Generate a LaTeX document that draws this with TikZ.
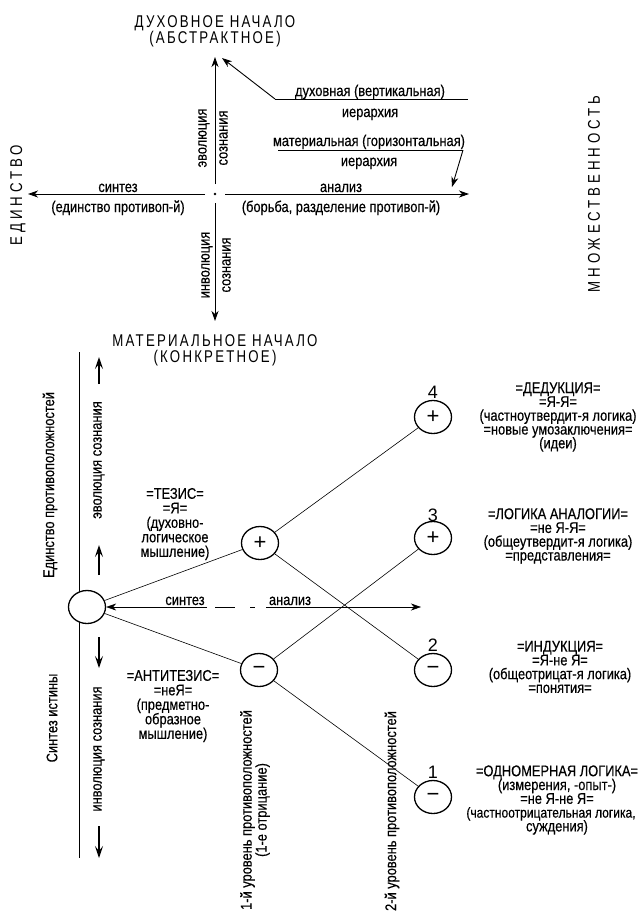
\documentclass[tikz,border=0pt]{standalone}
\usepackage{fontspec}
\setmainfont{Liberation Sans}[FakeStretch=0.83,FakeBold=0.4]
\newfontfamily\capsfont{Liberation Sans}[FakeStretch=0.78,LetterSpace=13]
\newfontfamily\sidefont{Liberation Sans}[FakeStretch=0.78,LetterSpace=23]
\newfontfamily\numfont{Liberation Sans}
\usetikzlibrary{arrows.meta,shapes.geometric}
\lineskiplimit=-30pt
\lineskip=0pt
\begin{document}
\begin{tikzpicture}[x=1pt,y=-1pt,
  txt/.style={font=\fontsize{15.5}{13.8}\selectfont, inner sep=0pt, align=center},
  txtw/.style={font=\fontsize{15.5}{21}\selectfont, inner sep=0pt, align=center},
  txtl/.style={font=\fontsize{15.5}{14.5}\selectfont, inner sep=0pt, align=center},
  captxt/.style={font=\capsfont\fontsize{17}{16}\selectfont, inner sep=0pt, align=center},
  sidetxt/.style={font=\sidefont\fontsize{17}{16}\selectfont, inner sep=0pt, align=center},
  numtxt/.style={font=\numfont\fontsize{18}{18}\selectfont, inner sep=0pt},
  circ/.style={ellipse, draw, line width=1.3pt, minimum width=37pt, minimum height=33pt, inner sep=0pt, font=\numfont\fontsize{22}{22}\selectfont},
  axis/.style={line width=0.9pt},
  conn/.style={line width=0.6pt},
  tipA/.style={-{Stealth[length=10pt,width=7pt,inset=3pt]}},
  tipB/.style={-{Stealth[length=12pt,width=8pt,inset=5pt]}, line width=1.5pt}
]
\useasboundingbox (0,0) rectangle (638,911);

% ---------- upper cross ----------
\node[captxt] (top) at (215,31) {ДУХОВНОЕ НАЧАЛО\\(АБСТРАКТНОЕ)};
\node[captxt] (bot) at (215,350) {МАТЕРИАЛЬНОЕ НАЧАЛО\\(КОНКРЕТНОЕ)};
\node[sidetxt, rotate=90] (edin) at (18,195) {ЕДИНСТВО};
\node[sidetxt, rotate=90] (mnozh) at (594,194) {МНОЖЕСТВЕННОСТЬ};

\coordinate (cdot) at (215,194);
\fill (cdot) circle (1.4);
\coordinate (vup0) at (215,184);
\coordinate (vuptip) at (215,57);
\coordinate (vdn0) at (215,203);
\coordinate (vdntip) at (215,321);
\coordinate (hl0) at (205,194);
\coordinate (hltip) at (28,194);
\coordinate (hr0) at (225,194);
\coordinate (hrtip) at (469,194);
\draw[axis,tipA] (vup0) -- (vuptip);
\draw[axis,tipA] (vdn0) -- (vdntip);
\draw[axis,tipA] (hl0) -- (hltip);
\draw[axis,tipA] (hr0) -- (hrtip);

\node[txtw, rotate=90] (evo) at (213,138) {эволюция\\сознания};
\node[txtw, rotate=90] (invo) at (216,265) {инволюция\\сознания};

\node[txt, anchor=base] (sint) at (118,192) {синтез};
\node[txt, anchor=base] (sint2) at (118,212) {(единство противоп-й)};
\node[txt, anchor=base] (anal) at (341,192) {анализ};
\node[txt, anchor=base] (anal2) at (341,212) {(борьба, разделение противоп-й)};

% hierarchies
\coordinate (h1a) at (275,99);
\coordinate (h1b) at (468,99);
\coordinate (h1tip) at (222,58);
\draw[axis] (h1b) -- (h1a);
\draw[axis,tipA] (h1a) -- (h1tip);
\node[txt, anchor=base] (dh) at (370,96) {духовная (вертикальная)};
\node[txt, anchor=base] (dh2) at (370,117) {иерархия};

\coordinate (h2a) at (278,150);
\coordinate (h2b) at (463,150);
\coordinate (h2tip) at (452,187);
\draw[axis] (h2a) -- (h2b);
\draw[axis,tipA] (h2b) -- (h2tip);
\node[txt, anchor=base] (mh) at (369,146) {материальная (горизонтальная)};
\node[txt, anchor=base] (mh2) at (369,166) {иерархия};

% ---------- lower diagram ----------
\coordinate (vl0) at (79,352);
\coordinate (vl1) at (79,858);
\draw[axis] (vl0) -- (vl1);

\coordinate (ua0) at (99,384); \coordinate (ua1) at (99,357);
\coordinate (ub0) at (99,575); \coordinate (ub1) at (99,545);
\coordinate (da0) at (99,637); \coordinate (da1) at (99,668);
\coordinate (db0) at (99,826); \coordinate (db1) at (99,858);
\draw[tipB] (ua0) -- (ua1);
\draw[tipB] (ub0) -- (ub1);
\draw[tipB] (da0) -- (da1);
\draw[tipB] (db0) -- (db1);

\node[txt, rotate=90] (evo2) at (99,460) {эволюция сознания};
\node[txt, rotate=90] (invo2) at (99,749) {инволюция сознания};
\node[txt, rotate=90] (edpr) at (50,485) {Единство противоположностей};
\node[txt, rotate=90] (sist) at (52,718) {Синтез истины};

\node[circ, fill=white] (c0) at (87,607) {};
\node[circ] (t) at (260,543) {+};
\node[circ] (a) at (259,670) {−};
\node[circ] (n4) at (433,417) {+};
\node[circ] (n3) at (433,538) {+};
\node[circ] (n2) at (433,670) {−};
\node[circ] (n1) at (433,797) {−};

\node[numtxt] (l4) at (433,392) {4};
\node[numtxt] (l3) at (433,515) {3};
\node[numtxt] (l2) at (433,645) {2};
\node[numtxt] (l1) at (433,772) {1};

\draw[conn] (c0) -- (t);
\draw[conn] (c0) -- (a);
\draw[conn] (t) -- (n4);
\draw[conn] (t) -- (n2);
\draw[conn] (a) -- (n3);
\draw[conn] (a) -- (n1);

% synthesis / analysis arrow
\coordinate (s1) at (207,607);
\coordinate (d1a) at (215,607); \coordinate (d1b) at (235,607);
\coordinate (d2a) at (250,607); \coordinate (d2b) at (255,607);
\coordinate (s2) at (266,607);
\coordinate (s2tip) at (421,607);
\draw[conn,tipA] (s1) -- (c0);
\draw[conn] (d1a) -- (d1b);
\draw[conn] (d2a) -- (d2b);
\draw[conn,tipA] (s2) -- (s2tip);
\node[txt, anchor=base] (sint3) at (185,605) {синтез};
\node[txt, anchor=base] (anal3) at (290,605) {анализ};

\node[txtl] (tz) at (175,524) {=ТЕЗИС=\\=Я=\\(духовно-\\логическое\\мышление)};
\node[txtl] (atz) at (173,706) {=АНТИТЕЗИС=\\=неЯ=\\(предметно-\\образное\\мышление)};

\node[txt] (b4) at (558,417) {=ДЕДУКЦИЯ=\\=Я-Я=\\(частноутвердит-я логика)\\=новые умозаключения=\\(идеи)};
\node[txt] (b3) at (558,536) {=ЛОГИКА АНАЛОГИИ=\\=не Я-Я=\\(общеутвердит-я логика)\\=представления=};
\node[txt] (b2) at (560,667) {=ИНДУКЦИЯ=\\=Я-не Я=\\(общеотрицат-я логика)\\=понятия=};
\node[txt] (b1) at (557,800) {=ОДНОМЕРНАЯ ЛОГИКА=\\(измерения, -опыт-)\\=не Я-не Я=\\\makebox[0pt]{\fontsize{14.5}{13.8}\selectfont(частноотрицательная логика,\hspace*{12pt}}\\суждения)};

\node[font=\fontsize{15.5}{15}\selectfont, inner sep=0pt, align=center, rotate=90] (lev1) at (255,810) {1-й уровень противоположностей\\(1-е отрицание)};
\node[txt, rotate=90] (lev2) at (392,811) {2-й уровень противоположностей};
\end{tikzpicture}
\end{document}
